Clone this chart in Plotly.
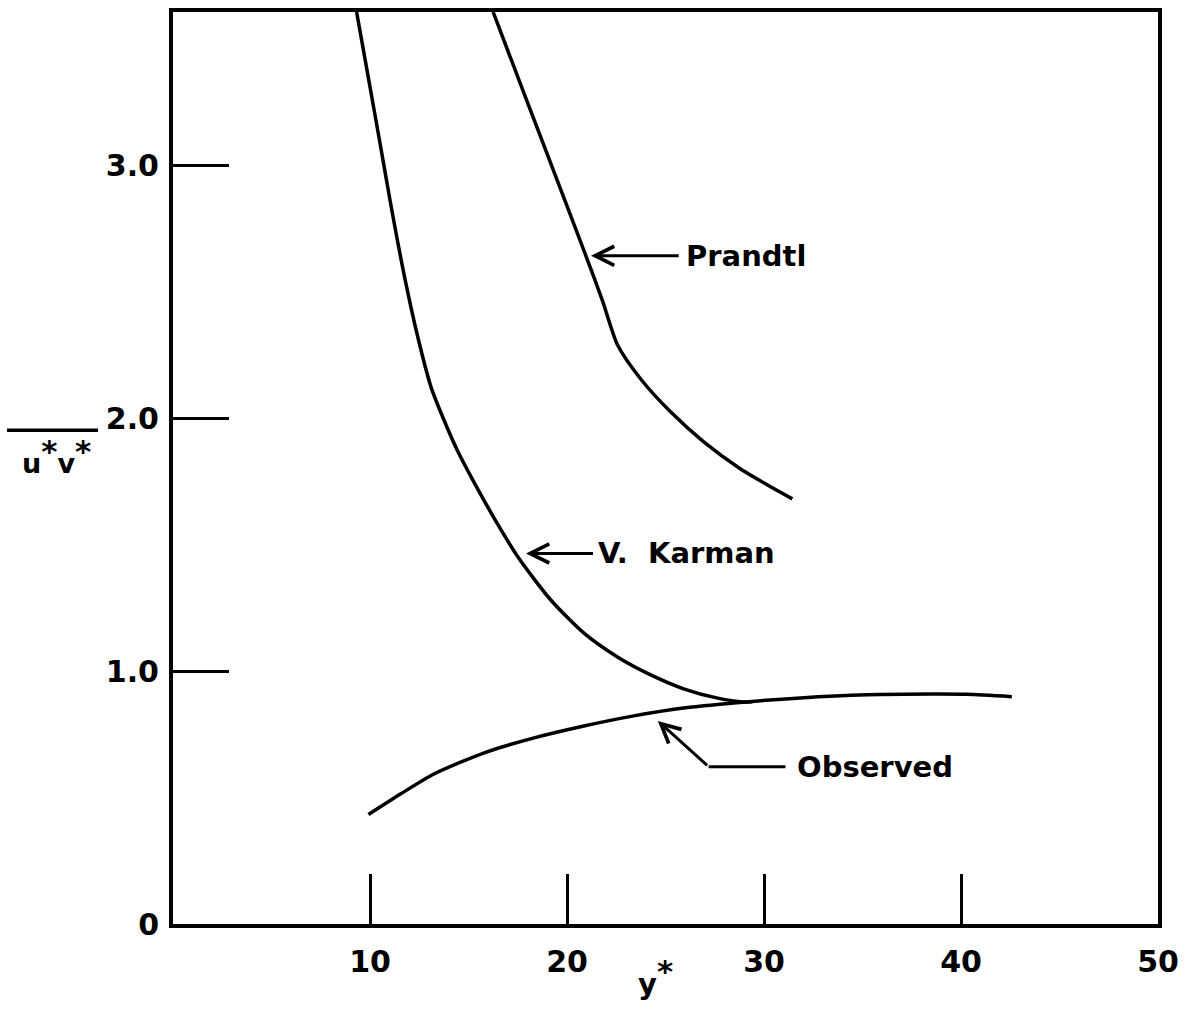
import plotly.graph_objects as go

# Mixing-length predictions and observation of turbulent shear, u*v* against y*
karman_x = [9.32, 10.0, 10.48, 11.09, 11.75, 12.46, 13.11, 13.77, 14.48, 15.29,
            16.30, 17.52, 19.19, 20.86, 22.58, 24.25, 25.92, 27.65, 28.96, 29.4]
karman_v = [3.606, 3.31, 3.10, 2.83, 2.56, 2.31, 2.12, 1.99, 1.865, 1.745,
            1.605, 1.45, 1.28, 1.15, 1.055, 0.985, 0.930, 0.893, 0.878, 0.879]

prandtl_x = [16.25, 17.4, 18.6, 19.8, 20.96, 21.8, 22.58, 23.75, 25.27, 26.94,
             28.81, 30.18, 31.44]
prandtl_v = [3.606, 3.37, 3.125, 2.88, 2.642, 2.465, 2.287, 2.154, 2.024, 1.906,
             1.799, 1.736, 1.681]

observed_x = [9.92, 11.59, 13.27, 15.80, 18.33, 20.86, 23.39, 25.92, 28.46, 31.85,
              35.24, 38.58, 40.30, 42.58]
observed_v = [0.433, 0.516, 0.594, 0.677, 0.736, 0.783, 0.823, 0.854, 0.874, 0.894,
              0.906, 0.909, 0.908, 0.899]

x_ticks = [10, 20, 30, 40, 50]
x_tick_text = ["10", "20", "30", "40", "50"]
y_ticks = [0, 1, 2, 3]
y_tick_text = ["0", "1.0", "2.0", "3.0"]

FONT = "DejaVu Sans"
INK = "#000000"
LABEL_FONT = dict(family=FONT, size=29, color=INK, weight="bold")
TICK_FONT = dict(family=FONT, size=30, color=INK, weight="bold")

fig = go.Figure()
for xs, vs in [(karman_x, karman_v), (prandtl_x, prandtl_v), (observed_x, observed_v)]:
    fig.add_trace(go.Scatter(
        x=xs, y=vs, mode="lines",
        line=dict(color=INK, width=3.5, shape="spline", smoothing=0.7),
        showlegend=False, hoverinfo="skip",
    ))

arrow_style = dict(showarrow=True, arrowhead=5, arrowsize=1.25, arrowwidth=3,
                   arrowcolor=INK, standoff=0, startstandoff=0)

annotations = [
    # straight callouts: label box sits at the arrow tail
    dict(x=21.22, y=2.642, ax=25.67, ay=2.642, xref="x", yref="y",
         axref="x", ayref="y", text="Prandtl", xanchor="left", yanchor="middle",
         borderpad=6, font=LABEL_FONT, **arrow_style),
    dict(x=17.92, y=1.465, ax=21.32, ay=1.465, xref="x", yref="y",
         axref="x", ayref="y", text="V.  Karman", xanchor="left", yanchor="middle",
         borderpad=4, font=LABEL_FONT, **arrow_style),
    # elbow callout: diagonal arrow, then a horizontal leader to the label
    dict(x=24.61, y=0.803, ax=27.19, ay=0.622, xref="x", yref="y",
         axref="x", ayref="y", text="", **arrow_style),
    dict(x=31.55, y=0.622, xref="x", yref="y", text="Observed",
         xanchor="left", yanchor="middle", showarrow=False, font=LABEL_FONT),
    # axis titles
    dict(x=-0.118, y=0.513, xref="paper", yref="paper",
         text='u<sup><span style="font-size:31px">*</span></sup>'
              'v<sup><span style="font-size:31px">*</span></sup>',
         showarrow=False, xanchor="center", yanchor="middle",
         font=dict(family=FONT, size=27, color=INK, weight="bold")),
    dict(x=0.49, y=-0.058, xref="paper", yref="paper",
         text='y<sup><span style="font-size:31px">*</span></sup>',
         showarrow=False, xanchor="center", yanchor="middle",
         font=dict(family=FONT, size=29, color=INK, weight="bold")),
]

shapes = [
    # bar over u*v*
    dict(type="line", xref="paper", yref="paper",
         x0=-0.1685, x1=-0.0761, y0=0.5415, y1=0.5415,
         line=dict(color=INK, width=3.5)),
    # horizontal leader of the "Observed" callout
    dict(type="line", xref="x", yref="y", x0=27.19, x1=31.09, y0=0.622, y1=0.622,
         line=dict(color=INK, width=3)),
]

fig.update_layout(
    width=1190, height=1010,
    margin=dict(l=173, r=32, t=8, b=86),
    paper_bgcolor="white", plot_bgcolor="white",
    annotations=annotations, shapes=shapes,
    font=dict(family=FONT, color=INK),
)
fig.update_xaxes(
    range=[0, 50], tickvals=x_ticks, ticktext=x_tick_text,
    showgrid=False, zeroline=False,
    showline=True, linecolor=INK, linewidth=4, mirror=True,
    ticks="inside", ticklen=50, tickwidth=3, tickcolor=INK,
    ticklabelstandoff=8, tickfont=TICK_FONT,
)
fig.update_yaxes(
    range=[0, 3.606], tickvals=y_ticks, ticktext=y_tick_text,
    showgrid=False, zeroline=False,
    showline=True, linecolor=INK, linewidth=4, mirror=True,
    ticks="inside", ticklen=56, tickwidth=3, tickcolor=INK,
    ticklabelstandoff=4, tickfont=TICK_FONT,
)

fig.write_html("out.html")
